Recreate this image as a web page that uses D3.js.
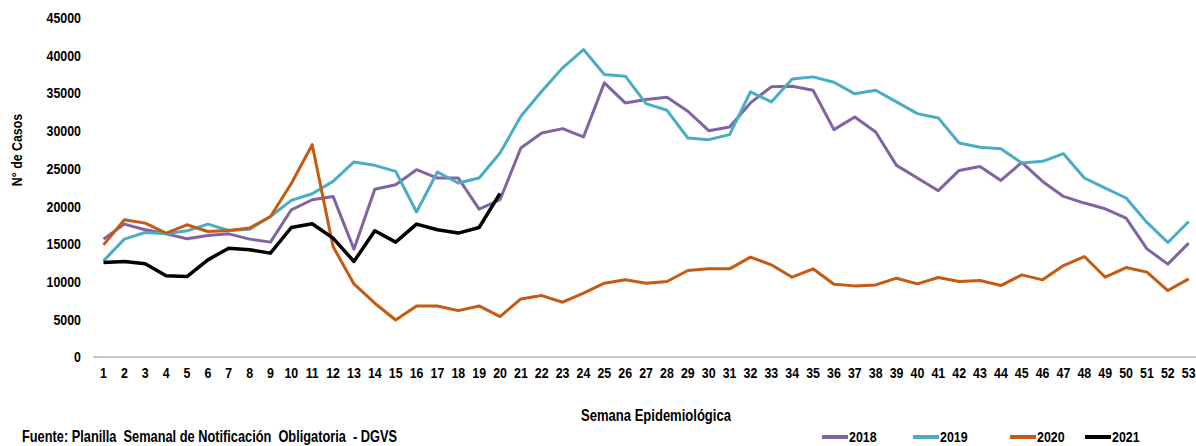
<!DOCTYPE html>
<html>
<head>
<meta charset="utf-8">
<script src="https://cdn.jsdelivr.net/npm/d3@7/dist/d3.min.js"></script>
<style>
  html, body { margin: 0; padding: 0; background: #fff; overflow: hidden; }
  svg { display: block; }
  text { font-family: "Liberation Sans", Arial, sans-serif; font-weight: bold; fill: #000; }
</style>
</head>
<body>
<svg id="chart" width="1196" height="446"></svg>
<script>
const weeks = d3.range(1, 54);
const yTicks = [0, 5000, 10000, 15000, 20000, 25000, 30000, 35000, 40000, 45000];

const s2018 = [15630, 17620, 16870, 16330, 15670, 16110, 16330, 15630, 15230, 19520,
  20850, 21290, 14300, 22240, 22840, 24830, 23730, 23730, 19600, 20850,
  27710, 29710, 30280, 29180, 36350, 33690, 34130, 34440, 32580, 30010,
  30500, 33690, 35820, 35900, 35370, 30150, 31830, 29840, 25410, 23730,
  22050, 24740, 25270, 23410, 25800, 23280, 21290, 20410, 19650, 18420,
  14340, 12310, 15100];
const s2019 = [12750, 15630, 16510, 16330, 16730, 17620, 16770, 16950, 18630, 20760,
  21650, 23280, 25860, 25410, 24610, 19220, 24530, 23070, 23730, 27050,
  31910, 35230, 38340, 40770, 37450, 37230, 33600, 32710, 29040, 28820,
  29480, 35150, 33820, 36870, 37140, 36430, 34890, 35370, 33820, 32270,
  31700, 28380, 27800, 27620, 25720, 25940, 26960, 23730, 22400, 21080,
  17840, 15180, 17970];
const s2020 = [14870, 18190, 17750, 16430, 17530, 16640, 16770, 17090, 18630, 23000,
  28150, 14650, 9690, 7130, 4910, 6770, 6770, 6150, 6770, 5360,
  7700, 8140, 7260, 8460, 9790, 10230, 9790, 10010, 11470, 11690,
  11690, 13240, 12220, 10580, 11690, 9650, 9430, 9560, 10450, 9690,
  10540, 10010, 10140, 9470, 10890, 10230, 12130, 13320, 10580, 11860,
  11250, 8810, 10360];
const s2021 = [12520, 12660, 12350, 10760, 10670, 12880, 14430, 14210, 13770, 17170,
  17660, 15760, 12660, 16730, 15230, 17620, 16870, 16430, 17170, 21700];

const seriesNames = ["2018", "2019", "2020", "2021"];
const seriesData = [s2018, s2019, s2020, s2021];
const colors = ["#8064A2", "#4BACC6", "#C55A11", "#000000"];
const widths = [3, 3, 3, 3.5];

const svg = d3.select("#chart");
const x = d3.scalePoint().domain(weeks).range([103.5, 1188.7]);
const y = d3.scaleLinear().domain([0, 45000]).range([357, 17.6]);
const NARROW = 0.8;
const FS = 15.5;

function narrowText(sel, tx, ty) {
  return sel.attr("transform", (d, i) => `translate(${tx(d, i)},${ty(d, i)}) scale(${NARROW},1)`);
}

// x axis line
svg.append("line").attr("x1", 93).attr("x2", 1196).attr("y1", y(0)).attr("y2", y(0))
  .attr("stroke", "#8c8c8c").attr("stroke-width", 1);

// y tick labels
narrowText(svg.append("g").selectAll("text").data(yTicks).join("text"), () => 81, d => y(d))
  .attr("dy", "0.35em").attr("text-anchor", "end").attr("font-size", FS).text(d => d);

// x tick labels
narrowText(svg.append("g").selectAll("text").data(weeks).join("text"), d => x(d), () => 373)
  .attr("dy", "0.35em").attr("text-anchor", "middle").attr("font-size", FS).text(d => d);

// axis titles
svg.append("text").attr("transform", `translate(17,150) rotate(-90) scale(${NARROW},1)`)
  .attr("text-anchor", "middle").attr("dy", "0.35em").attr("font-size", FS).text("N° de Casos");
svg.append("text").attr("transform", `translate(656,415) scale(${NARROW},1)`).attr("dy", "0.35em")
  .attr("text-anchor", "middle").attr("font-size", 16.3).text("Semana Epidemiológica");

// lines
const line = d3.line().x((d, i) => x(weeks[i])).y(d => y(d));
seriesData.forEach((s, k) => {
  svg.append("path").datum(s).attr("d", line).attr("fill", "none")
    .attr("stroke", colors[k]).attr("stroke-width", widths[k])
    .attr("stroke-linejoin", "round").attr("stroke-linecap", "butt");
});

// legend
const legendX = [822, 913, 1010, 1085];
const lg = svg.append("g");
seriesNames.forEach((n, k) => {
  lg.append("line").attr("x1", legendX[k]).attr("x2", legendX[k] + 26)
    .attr("y1", 437).attr("y2", 437).attr("stroke", colors[k]).attr("stroke-width", 4);
  lg.append("text").attr("transform", `translate(${legendX[k] + 27},437) scale(${NARROW},1)`)
    .attr("dy", "0.35em").attr("font-size", FS).text(n);
});

// source
svg.append("text").attr("transform", `translate(22,442) scale(${NARROW},1)`).attr("font-size", 16)
  .attr("xml:space", "preserve")
  .text("Fuente: Planilla  Semanal de Notificación  Obligatoria  - DGVS");
</script>
</body>
</html>
